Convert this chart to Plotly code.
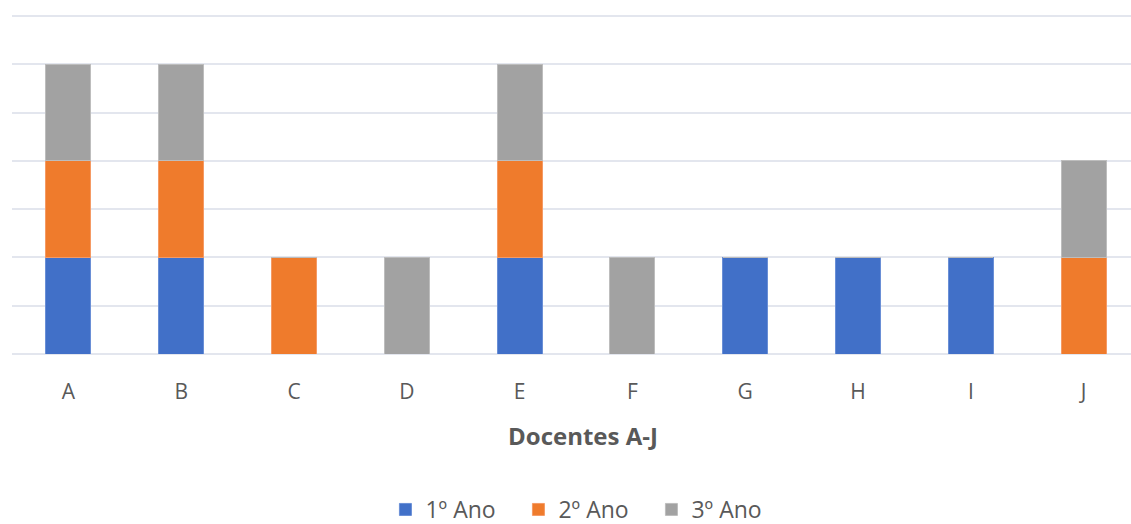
import plotly.graph_objects as go

docentes = ["A", "B", "C", "D", "E", "F", "G", "H", "I", "J"]
ano1 = [1, 1, 0, 0, 1, 0, 1, 1, 1, 0]
ano2 = [1, 1, 1, 0, 1, 0, 0, 0, 0, 1]
ano3 = [1, 1, 0, 1, 1, 1, 0, 0, 0, 1]

series = [
    ("1º Ano", ano1, "#4170c8", "#6a8fd6"),
    ("2º Ano", ano2, "#ef7b2c", "#f59a64"),
    ("3º Ano", ano3, "#a2a2a2", "#bdbdbd"),
]

fig = go.Figure()
for name, vals, color, edge in series:
    fig.add_trace(go.Bar(
        x=docentes, y=vals, name=name,
        marker=dict(color=color, line=dict(color=edge, width=1)),
    ))

font_family = "Open Sans, Liberation Sans, sans-serif"
fig.update_layout(
    barmode="stack",
    bargap=0.6,
    width=1131, height=524,
    margin=dict(l=12, r=0, t=10, b=170, autoexpand=False),
    plot_bgcolor="white",
    paper_bgcolor="white",
    font=dict(family=font_family, color="#595959", size=20),
    xaxis=dict(
        range=[-0.5, 9.42],
        automargin=False,
        showgrid=False,
        showline=False,
        ticks="",
        tickfont=dict(size=21, color="#595959"),
        ticklabelstandoff=23,
    ),
    yaxis=dict(
        range=[0, 3.562],
        dtick=0.5,
        automargin=False,
        showticklabels=False,
        gridcolor="#e3e6ee",
        gridwidth=1.5,
        zeroline=True,
        zerolinecolor="#e3e6ee",
        zerolinewidth=1.5,
    ),
    legend=dict(
        orientation="h",
        x=0.512, xanchor="center",
        y=-0.452, yanchor="middle",
        font=dict(size=23, color="#595959"),
        itemwidth=30,
        entrywidth=88,
        entrywidthmode="pixels",
        traceorder="normal",
    ),
    annotations=[dict(
        text="<b>Docentes A-J</b>",
        xref="paper", yref="paper",
        x=0.51, y=-0.238, xanchor="center", yanchor="middle",
        showarrow=False,
        font=dict(size=24, color="#595959"),
    )],
)

fig.write_html("out.html")
